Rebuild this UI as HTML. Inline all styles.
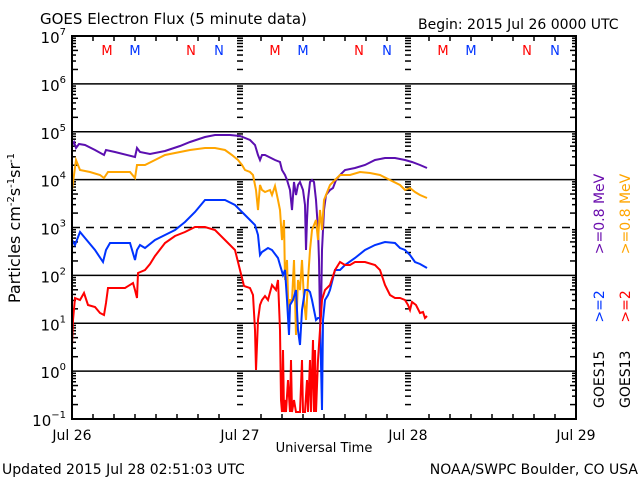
<!DOCTYPE html>
<html><head><meta charset="utf-8"><style>
body{margin:0;background:#fff;}
svg{display:block;font-family:"DejaVu Sans","Liberation Sans",sans-serif;}
</style></head><body>
<svg id="s" width="640" height="480" xmlns="http://www.w3.org/2000/svg">
<rect width="640" height="480" fill="#fff"/>
<text x="40" y="24" font-size="15">GOES Electron Flux (5 minute data)</text>
<text x="418" y="29" font-size="14">Begin: 2015 Jul 26 0000 UTC</text>
<text x="2" y="474" font-size="14">Updated 2015 Jul 28 02:51:03 UTC</text>
<text x="638" y="474" font-size="14" text-anchor="end">NOAA/SWPC Boulder, CO USA</text>
<text x="324" y="452" font-size="13" text-anchor="middle">Universal Time</text>
<g font-size="14" text-anchor="middle">
<text x="72" y="440">Jul 26</text><text x="240" y="440">Jul 27</text><text x="408" y="440">Jul 28</text><text x="576" y="440">Jul 29</text>
</g>
<text transform="translate(20,228) rotate(-90)" font-size="16" text-anchor="middle">Particles cm<tspan font-size="10" dy="-6">-2</tspan><tspan dy="6">s</tspan><tspan font-size="10" dy="-6">-1</tspan><tspan dy="6">sr</tspan><tspan font-size="10" dy="-6">-1</tspan></text>
<g font-size="14" text-anchor="start">
<text transform="translate(604,408) rotate(-90)"><tspan fill="#000">GOES15</tspan><tspan dx="28" fill="#0033ff">&gt;=2</tspan><tspan dx="36" fill="#6a0dad">&gt;=0.8 MeV</tspan></text>
<text transform="translate(630,408) rotate(-90)"><tspan fill="#000">GOES13</tspan><tspan dx="28" fill="#ff0000">&gt;=2</tspan><tspan dx="36" fill="#ffa500">&gt;=0.8 MeV</tspan></text>
</g>
<g id="grid" stroke="#000" stroke-width="1.5" fill="none"></g>
<g id="lbl" font-size="15" text-anchor="end"></g>
<g font-size="13" text-anchor="middle" id="mn"></g>
<g fill="none" stroke-width="2" stroke-linejoin="miter">
<polyline stroke="#5b0fb0" points="72,145 74,142 76,148 79,144 85,145 95,150 104,155 106,150 115,152 135,157 137,148 140,152 150,154 165,151 180,146 190,142 205,137 215,135 230,135 240,136 250,140 255,145 258,155 260,160 262,155 265,155 275,160 280,162 282,170 285,175 287,180 290,190 292,210 294,182 296,195 298,185 300,182 303,190 305,205 306,250 307,220 308,200 310,182 312,180 314,182 316,200 318,230 319,260 320,320 321,315 322,250 324,210 326,195 330,190 333,188 336,180 340,175 345,170 355,168 365,165 375,160 385,158 395,158 405,160 412,162 420,165 427,168"/>
<polyline stroke="#ffa500" points="72,190 74,175 76,160 80,170 90,172 100,175 104,178 108,172 130,172 135,178 137,165 145,165 155,160 165,155 180,152 190,150 205,148 215,148 225,150 232,155 238,160 242,165 245,170 250,172 253,175 256,190 258,210 260,185 262,190 265,192 270,190 272,195 275,186 278,200 280,210 282,240 284,220 285,280 287,260 289,330 290,300 292,300 294,260 296,335 298,280 300,290 302,260 304,300 306,320 308,280 310,250 312,230 314,225 316,220 318,240 320,210 322,230 324,200 326,195 330,185 335,180 340,175 350,175 360,172 370,173 380,175 390,180 400,185 405,190 410,188 415,192 420,195 427,198"/>
<polyline stroke="#0033ff" points="72,240 75,245 80,232 85,238 95,250 103,262 106,250 110,243 130,243 135,260 137,250 140,245 145,248 155,240 165,235 175,230 185,222 195,212 205,200 215,200 225,200 235,205 240,210 245,215 250,220 255,225 258,235 260,255 262,252 268,248 272,250 278,258 280,265 283,275 285,270 287,300 289,335 290,305 293,300 296,290 298,330 300,345 302,310 305,290 308,290 310,292 312,300 314,310 316,320 318,318 320,318 322,410 323,320 325,300 328,295 330,290 335,270 340,270 345,265 355,258 365,250 375,245 385,242 395,243 400,248 405,250 410,255 415,262 420,264 427,268"/>
<polyline stroke="#ff0000" points="72,345 73,320 75,298 80,300 84,293 88,305 95,307 100,313 104,315 106,303 108,288 125,288 133,283 135,290 137,298 138,273 145,270 150,264 155,256 165,243 175,236 185,232 195,227 205,227 215,230 225,240 235,250 240,270 244,286 250,288 253,295 255,330 256,370 258,320 260,305 262,300 265,296 268,300 272,285 276,290 278,280 280,330 281,400 282,412 283,350 284,412 285,400 286,412 288,380 290,412 291,360 292,412 294,400 296,412 300,412 302,360 303,412 305,412 307,380 308,412 310,360 311,412 313,340 314,412 315,350 316,412 318,360 320,330 322,300 325,290 330,285 335,270 340,262 345,265 350,265 355,262 365,262 375,265 380,270 385,285 390,295 395,298 400,298 405,300 408,305 410,310 412,302 416,305 420,313 423,312 425,318 427,316"/>
</g>
<rect x="72" y="36" width="504" height="383" fill="none" stroke="#000" stroke-width="2"/>
</svg>
<script>
(function(){
var NS="http://www.w3.org/2000/svg",g=document.getElementById('grid'),L=document.getElementById('lbl'),M=document.getElementById('mn');
function ln(x1,y1,x2,y2,da){var e=document.createElementNS(NS,'line');e.setAttribute('x1',x1);e.setAttribute('y1',y1);e.setAttribute('x2',x2);e.setAttribute('y2',y2);if(da)e.setAttribute('stroke-dasharray',da);g.appendChild(e);}
var T0=36,dec=47.875;
for(var k=0;k<=8;k++){var y=T0+k*dec,p=7-k;
 if(k>0&&k<8)ln(72,y,576,y,k==4?'8,6':null);
 var t=document.createElementNS(NS,'text');t.setAttribute('x',66);t.setAttribute('y',y+7);
 t.appendChild(document.createTextNode('10'));
 var s=document.createElementNS(NS,'tspan');s.setAttribute('font-size','10');s.setAttribute('dy','-8');s.textContent=(p<0?'\u22121':String(p));t.appendChild(s);
 L.appendChild(t);
 if(k<8)for(var m=2;m<=9;m++){var yy=y+dec-Math.log10(m)*dec;var w=(m==5||m==2)?6:4;
  ln(72,yy,72+w,yy);ln(576,yy,576-w,yy);ln(237,yy,243,yy);ln(405,yy,411,yy);}}
for(var h=3;h<72;h+=3){var x=72+h*7;if(h%24){ln(x,419,x,414);ln(x,36,x,41);}}
var d=[[107,'M','#f00'],[135,'M','#0033ff'],[191,'N','#f00'],[219,'N','#0033ff']];
for(var i=0;i<3;i++)d.forEach(function(a){var t=document.createElementNS(NS,'text');t.setAttribute('x',a[0]+i*168);t.setAttribute('y',55);t.setAttribute('fill',a[2]);t.textContent=a[1];M.appendChild(t);});
})();
</script>
</body></html>
